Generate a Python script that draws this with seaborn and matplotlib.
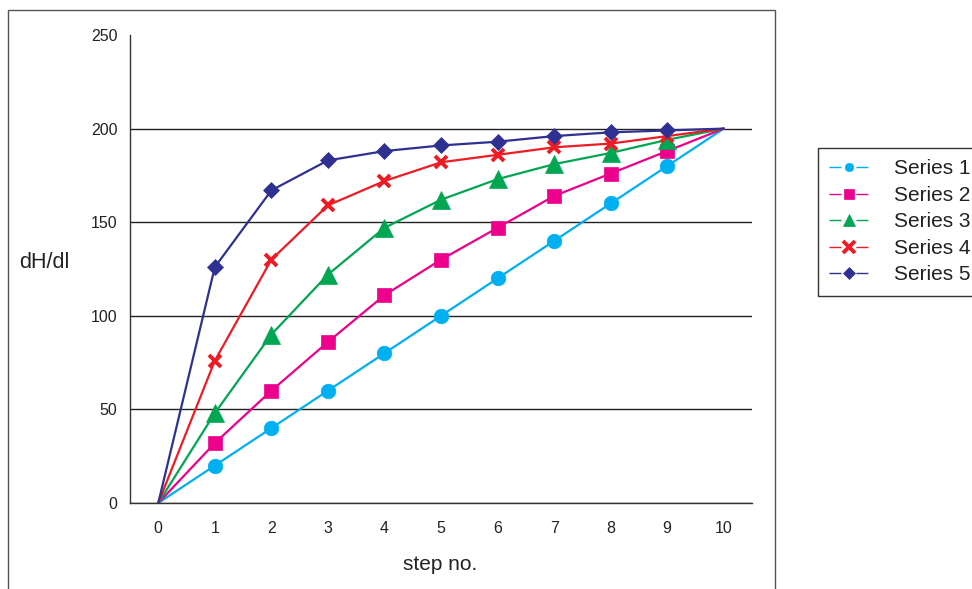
import matplotlib
matplotlib.use('Agg')
import matplotlib.pyplot as plt
from matplotlib.patches import Rectangle
from matplotlib.ticker import FixedLocator
import pandas as pd
import seaborn as sns

# data
steps = [0, 1, 2, 3, 4, 5, 6, 7, 8, 9, 10]
series_1 = [0, 20, 40, 60, 80, 100, 120, 140, 160, 180, 200]
series_2 = [0, 32, 60, 86, 111, 130, 147, 164, 176, 188, 200]
series_3 = [0, 48, 90, 122, 147, 162, 173, 181, 187, 194, 200]
series_4 = [0, 76, 130, 159, 172, 182, 186, 190, 192, 196, 200]
series_5 = [0, 126, 167, 183, 188, 191, 193, 196, 198, 199, 200]
series_names = ['Series 1', 'Series 2', 'Series 3', 'Series 4', 'Series 5']
y_ticks = [0, 50, 100, 150, 200, 250]

colors = ['#00B0F0', '#EC008C', '#00A651', '#ED1C24', '#2E3192']
markers = ['o', 's', '^', 'x', 'D']
msizes = [10.5, 10.5, 12.5, 9, 8.5]
leg_msizes = [6, 7.5, 8.5, 8, 6.5]

sns.set_style('white')
plt.rcParams['font.family'] = ['Liberation Sans', 'DejaVu Sans']

fig = plt.figure(figsize=(9.72, 5.89), dpi=100)
W, H = 972, 589
ax = fig.add_axes([130 / W, 1 - 503 / H, (752 - 130) / W, (503 - 35) / H])

all_series = [series_1, series_2, series_3, series_4, series_5]
for name, vals, c, m, ms in zip(series_names, all_series, colors, markers, msizes):
    df = pd.DataFrame({'step': steps, 'value': vals})
    # no markers on the first and last step
    sns.lineplot(data=df, x='step', y='value', ax=ax, color=c, marker=m,
                 markersize=ms, markeredgecolor=c, markeredgewidth=2.8 if m == 'x' else 0.5,
                 markevery=slice(1, len(steps) - 1),
                 linewidth=1.6, label=name, zorder=3)

ax.set_xlim(-0.5, 10.5)
ax.set_ylim(0, 250)
ax.set_yticks(y_ticks)
ax.set_xticks(steps)
ax.set_xticklabels([str(s) for s in steps])
ax.xaxis.set_minor_locator(FixedLocator([s - 0.5 for s in steps] + [10.5]))
ax.tick_params(axis='x', which='major', length=0, pad=13, labelsize=11.5, colors='#222222')
ax.tick_params(axis='x', which='minor', length=6, width=1, direction='out', colors='#333333')
ax.tick_params(axis='y', which='major', length=6, width=1, direction='out', pad=3,
               labelsize=11.5, colors='#333333', labelcolor='#222222')

ax.yaxis.grid(True, color='#222222', linewidth=1)
ax.get_ygridlines()[-1].set_visible(False)
ax.set_axisbelow(True)

for s in ['top', 'right']:
    ax.spines[s].set_visible(False)
for s in ['left', 'bottom']:
    ax.spines[s].set_color('#333333')
    ax.spines[s].set_linewidth(1)

ax.set_ylabel('dH/dl', rotation=0, fontsize=15.5, color='#222222', ha='center', va='center')
ax.yaxis.set_label_coords(-0.137, 0.513)
ax.set_xlabel('step no.', fontsize=15, color='#222222', ha='center', va='center')
ax.xaxis.set_label_coords(0.498, -0.132)

handles, labels = ax.get_legend_handles_labels()
leg = ax.legend(handles, labels, loc='upper left', bbox_to_anchor=(818 / W, 1 - 148 / H),
                bbox_transform=fig.transFigure, frameon=True, fancybox=False,
                edgecolor='black', fontsize=15, labelspacing=0.36, handlelength=1.9,
                handletextpad=1.2, borderpad=0.55, borderaxespad=0)
leg.get_frame().set_linewidth(1)
for text in leg.get_texts():
    text.set_color('#222222')
for line, ms in zip(leg.get_lines(), leg_msizes):
    line.set_linewidth(1)
    line.set_markersize(ms)
    # short dash - gap - short dash, marker sits in the gap
    line.set_dashes([8.6, 10.8, 8.6, 40])

# outer chart frame
fig.patches.append(Rectangle((8 / W, -0.05), (775 - 8) / W, 1.05 - 10 / H,
                             transform=fig.transFigure, fill=False,
                             edgecolor='#555555', linewidth=1))

fig.savefig('out.png', dpi=100)
